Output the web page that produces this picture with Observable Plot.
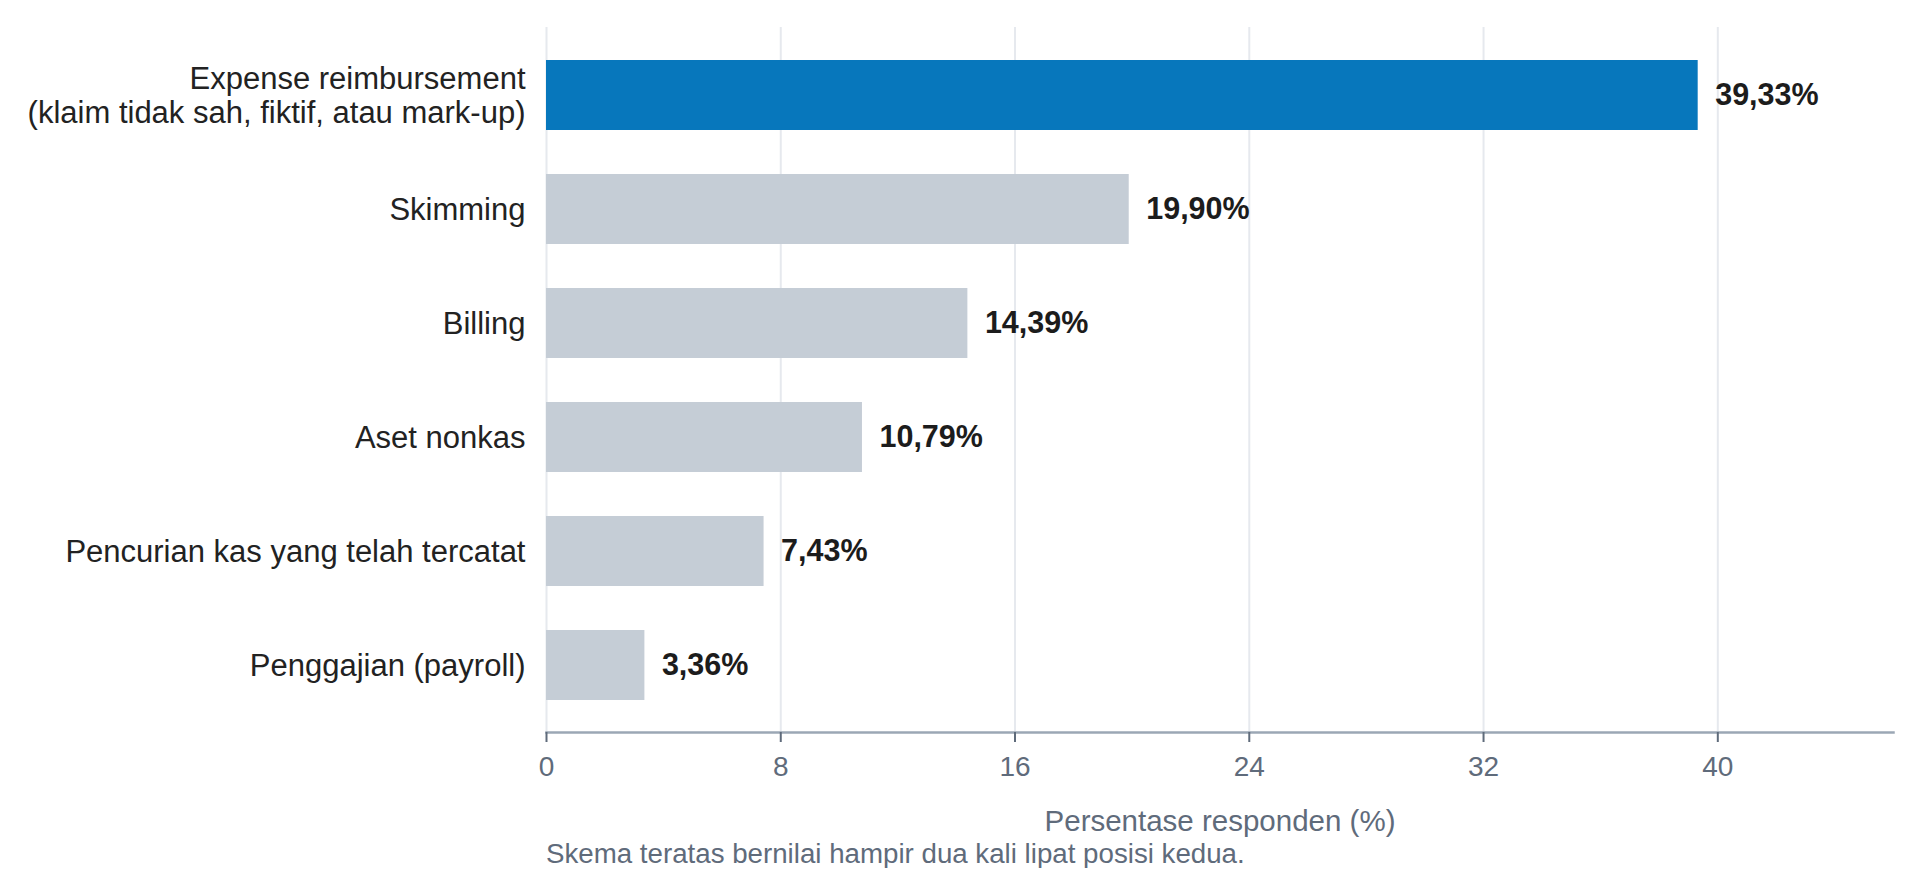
<!DOCTYPE html>
<html>
<head>
<meta charset="utf-8">
<script src="https://cdn.jsdelivr.net/npm/d3@7"></script>
<script src="https://cdn.jsdelivr.net/npm/@observablehq/plot@0.6"></script>
<style>
  html, body { margin: 0; padding: 0; background: #ffffff; }
  #chart { width: 1920px; }
  .caption {
    font-family: "Liberation Sans", Arial, sans-serif;
    font-size: 27.7px;
    line-height: 1;
    color: #5f6b7b;
    margin: 2px 0 0 546px;
    white-space: nowrap;
  }
</style>
</head>
<body>
<div id="chart"></div>
<script>
const categories = [
  "Expense reimbursement\n(klaim tidak sah, fiktif, atau mark-up)",
  "Skimming",
  "Billing",
  "Aset nonkas",
  "Pencurian kas yang telah tercatat",
  "Penggajian (payroll)"
];
const values = [39.33, 19.90, 14.39, 10.79, 7.43, 3.36];
const highlighted = [true, false, false, false, false, false];
const xTicks = [0, 8, 16, 24, 32, 40];
const xLabel = "Persentase responden (%)";
const captionText = "Skema teratas bernilai hampir dua kali lipat posisi kedua.";

const data = categories.map((c, i) => ({category: c, value: values[i], top: highlighted[i]}));
const fmt = v => v.toFixed(2).replace(".", ",") + "%";

const font = "'Liberation Sans', Arial, sans-serif";

const chart = Plot.plot({
  width: 1920,
  height: 838,
  marginLeft: 546,
  marginRight: 27,
  marginTop: 27,
  marginBottom: 106,
  style: {fontFamily: font, background: "#ffffff", overflow: "visible"},
  x: {domain: [0, 46], ticks: xTicks},
  y: {domain: categories, paddingInner: 0.39, paddingOuter: 0.284},
  color: {domain: [true, false], range: ["#0777bc", "#c5cdd6"]},
  marks: [
    Plot.gridX(xTicks, {stroke: "#e6e9ee", strokeOpacity: 1, strokeWidth: 2}),
    Plot.barX(data, {x: "value", y: "category", fill: "top"}),
    Plot.frame({anchor: "bottom", stroke: "#9ba7b5", strokeWidth: 2.5}),
    Plot.axisX({
      ticks: xTicks,
      tickSize: 10,
      tickPadding: 14,
      stroke: "#5f6b7b",
      strokeWidth: 2,
      fill: "#5f6b7b",
      fontSize: 28,
      label: null
    }),
    Plot.axisX({
      ticks: [],
      tickSize: 0,
      fill: "#5f6b7b",
      fontSize: 29.5,
      label: xLabel,
      labelAnchor: "center",
      labelArrow: "none",
      labelOffset: 98
    }),
    Plot.axisY({
      tickSize: 0,
      tickPadding: 21,
      fontSize: 31,
      fill: "#222222",
      lineHeight: 1.08,
      label: null
    }),
    Plot.text(data, {
      x: "value",
      y: "category",
      text: d => fmt(d.value),
      textAnchor: "start",
      dx: 17,
      fontSize: 30.5,
      fontWeight: "bold",
      fill: "#1c1c1c"
    })
  ]
});

document.getElementById("chart").appendChild(chart);
const cap = document.createElement("div");
cap.className = "caption";
cap.textContent = captionText;
document.body.appendChild(cap);
</script>
</body>
</html>
